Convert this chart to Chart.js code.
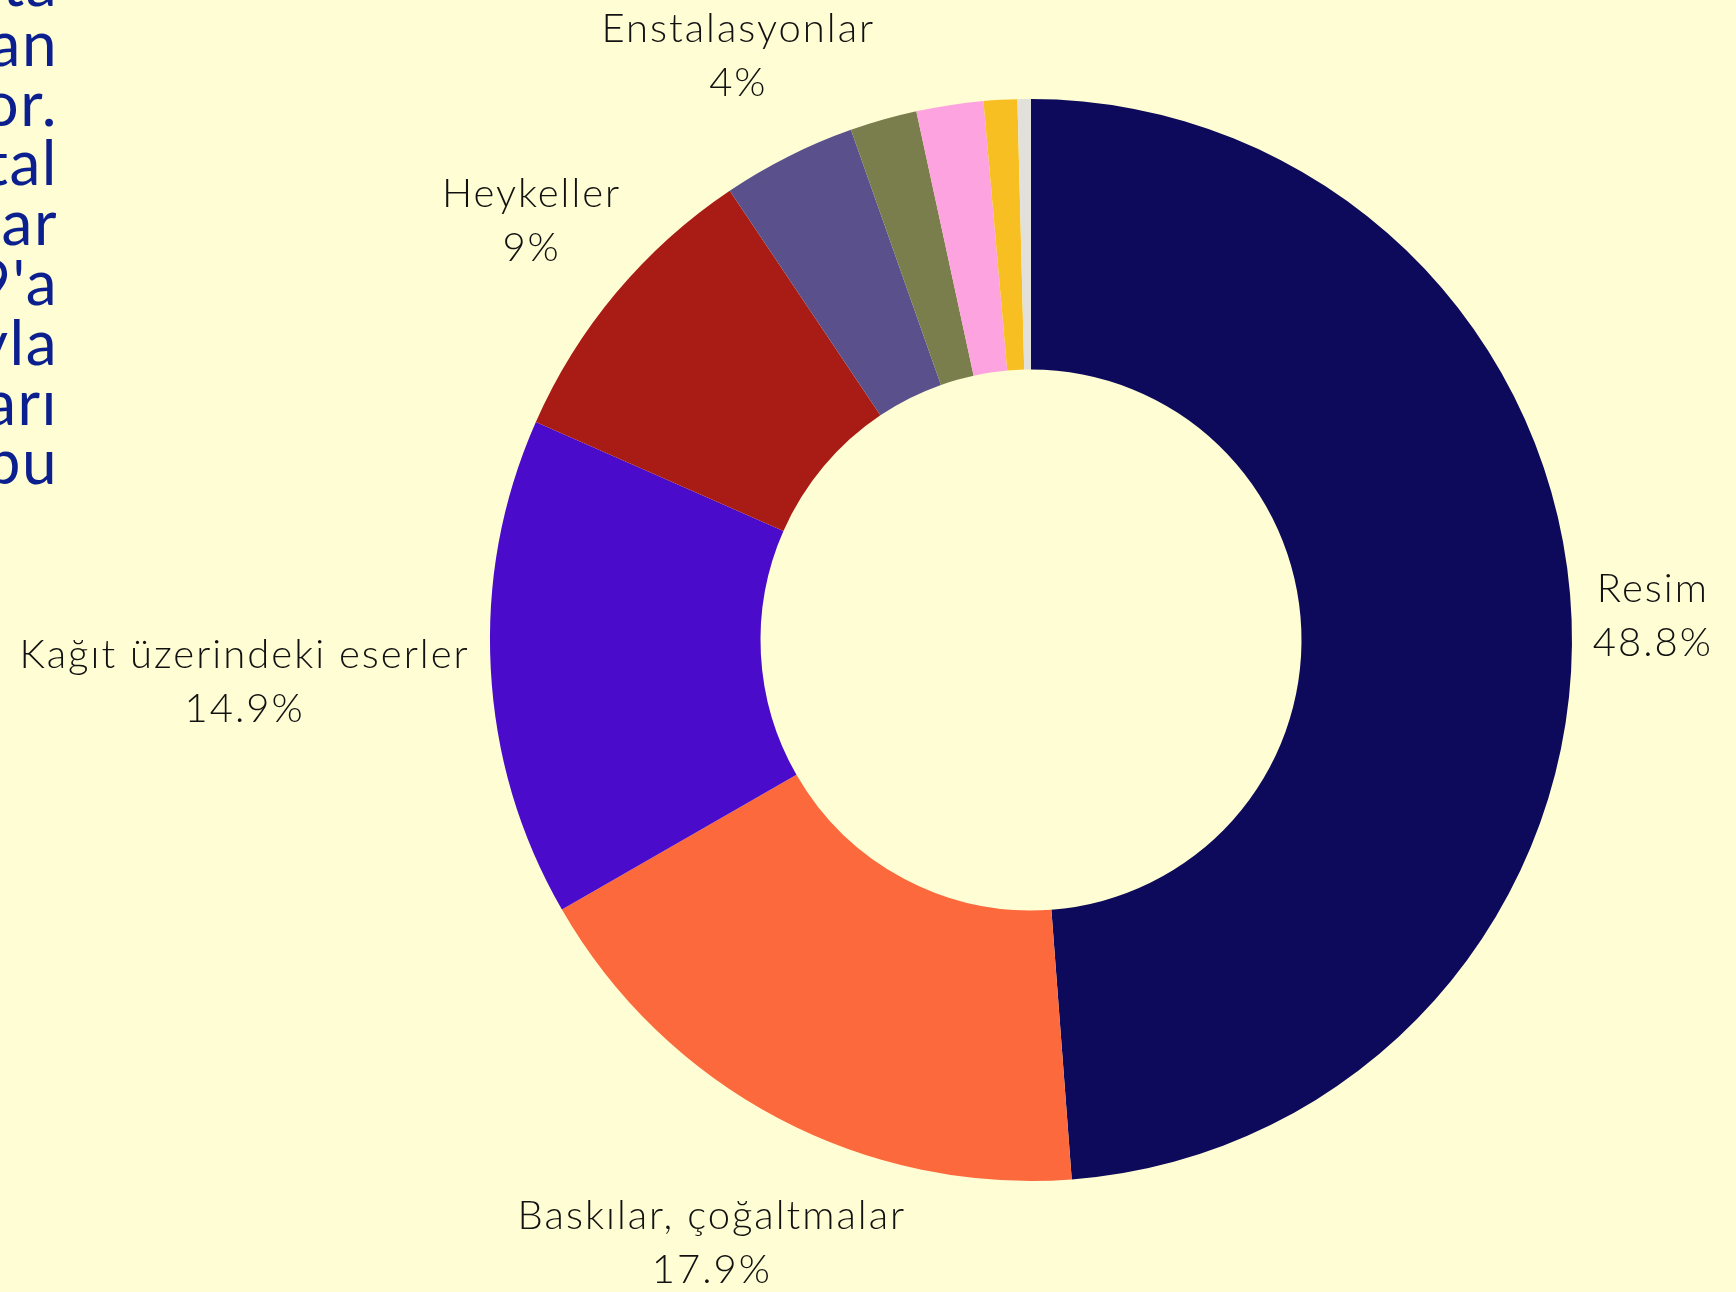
<!DOCTYPE html>
<html>
<head>
<meta charset="utf-8">
<script src="https://cdn.jsdelivr.net/npm/chart.js@4/dist/chart.umd.min.js"></script>
<style>
html,body{margin:0;padding:0;width:1736px;height:1292px;overflow:hidden;background:#fefdd3;}
#side{position:absolute;top:-47px;left:-2942px;width:3000px;text-align:right;white-space:nowrap;
  font-family:Lato,"DejaVu Sans",sans-serif;font-weight:400;font-size:62px;line-height:59.8px;color:#0c1f8f;letter-spacing:1.5px;}
#wrap{position:absolute;left:0;top:0;width:1736px;height:1292px;}
</style>
</head>
<body>
<div id="side">Müzenin koleksiyonunda, sanata<br>dair çok çeşitli eserler bulunan<br>zengin bir arşiv yer alıyor.<br>Resimden heykele, fotoğraftan dijital<br>sanata kadar pek çok türde eser var<br>ve koleksiyon 1950'lerden 2019'a<br>kadar yapılan alımlar ve bağışlar yoluyla<br>büyüdü. Eserlerin çoğu ressamların yapıtları<br>ve grafikte bu</div>
<div id="wrap"><canvas id="c" width="1736" height="1292"></canvas></div>
<script>
const categories = ['Resim', 'Baskılar, çoğaltmalar', 'Kağıt üzerindeki eserler', 'Heykeller', 'Enstalasyonlar', 'Fotoğraflar', 'Video', 'Tekstil', 'Diğer'];
const shares = [48.8, 17.9, 14.9, 9, 4, 2, 2, 1, 0.4];
const sliceColors = ['#0d0a5b', '#fb693d', '#4a0bca', '#a91b15', '#5a518c', '#7a7e4d', '#fda3df', '#f8bf22', '#e2e0da'];
const labelMinShare = 3;

const outsideLabels = {
  id: 'outsideLabels',
  afterDatasetsDraw(chart) {
    const ctx = chart.ctx;
    const meta = chart.getDatasetMeta(0);
    const lineGap = 54;
    const gap = 20;
    const halfH = 34;
    ctx.save();
    ctx.font = '300 40px Lato, "DejaVu Sans", sans-serif';
    if ('letterSpacing' in ctx) ctx.letterSpacing = '2px';
    ctx.fillStyle = '#111111';
    ctx.textAlign = 'center';
    ctx.textBaseline = 'middle';
    meta.data.forEach((arc, i) => {
      const v = shares[i];
      if (v < labelMinShare) return;
      const p = arc.getProps(['x', 'y', 'startAngle', 'endAngle', 'outerRadius'], true);
      const a = (p.startAngle + p.endAngle) / 2;
      const dx = Math.cos(a), dy = Math.sin(a);
      const lines = [categories[i], v + '%'];
      const w = Math.max(...lines.map(t => ctx.measureText(t).width));
      const d = p.outerRadius + gap + (w / 2) * Math.abs(dx) + halfH * Math.abs(dy);
      const cx = p.x + dx * d, cy = p.y + dy * d;
      ctx.fillText(lines[0], cx, cy - lineGap / 2);
      ctx.fillText(lines[1], cx, cy + lineGap / 2);
    });
    ctx.restore();
  }
};

function draw() {
  new Chart(document.getElementById('c'), {
    type: 'doughnut',
    data: {
      labels: categories,
      datasets: [{
        data: shares,
        backgroundColor: sliceColors,
        borderWidth: 0,
        hoverBorderWidth: 0,
        hoverOffset: 0,
        offset: 0
      }]
    },
    options: {
      responsive: false,
      devicePixelRatio: 1,
      animation: false,
      cutout: '50%',
      layout: { padding: { left: 490, right: 164, top: 99, bottom: 111 } },
      plugins: { legend: { display: false }, tooltip: { enabled: false } }
    },
    plugins: [outsideLabels]
  });
}
if (document.fonts && document.fonts.load) {
  Promise.all([document.fonts.load('300 40px Lato'), document.fonts.load('40px Lato')]).then(draw, draw);
} else { draw(); }
</script>
</body>
</html>
